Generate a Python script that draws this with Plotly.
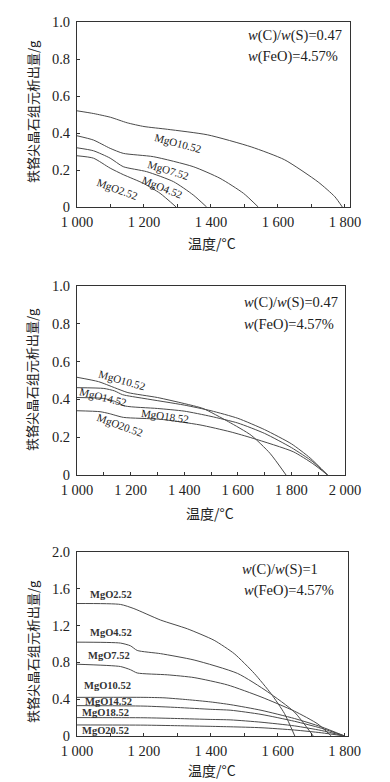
import plotly.graph_objects as go

# ---------------- data ----------------
# Panel 1: w(C)/w(S)=0.47, w(FeO)=4.57%
p1_names = ["MgO10.52", "MgO7.52", "MgO4.52", "MgO2.52"]
p1_T = [
    [1000, 1050, 1100, 1150, 1200, 1270, 1390, 1520, 1620, 1720, 1770, 1792],
    [1000, 1049, 1099, 1138, 1228, 1347, 1427, 1497, 1541],
    [1000, 1049, 1099, 1138, 1208, 1288, 1347, 1387],
    [1000, 1049, 1099, 1138, 1198, 1248, 1296],
]
p1_V = [
    [0.52, 0.505, 0.485, 0.455, 0.435, 0.42, 0.39, 0.325, 0.255, 0.135, 0.055, 0],
    [0.385, 0.362, 0.317, 0.29, 0.272, 0.218, 0.155, 0.074, 0],
    [0.32, 0.304, 0.264, 0.218, 0.191, 0.137, 0.065, 0],
    [0.277, 0.264, 0.21, 0.175, 0.128, 0.074, 0],
]

# Panel 2: w(C)/w(S)=0.47, w(FeO)=4.57%
p2_names = ["MgO10.52", "MgO14.52", "MgO18.52", "MgO20.52"]
p2_T = [
    [1000, 1080, 1140, 1190, 1300, 1400, 1470, 1565, 1650, 1720, 1780],
    [1000, 1100, 1140, 1170, 1250, 1400, 1500, 1600, 1700, 1800, 1870, 1935],
    [1000, 1100, 1140, 1180, 1300, 1400, 1500, 1600, 1700, 1800, 1880, 1935],
    [1000, 1086, 1120, 1173, 1310, 1459, 1571, 1657, 1807, 1880, 1935],
]
p2_V = [
    [0.517, 0.494, 0.462, 0.436, 0.41, 0.378, 0.352, 0.282, 0.21, 0.115, 0],
    [0.462, 0.458, 0.445, 0.425, 0.405, 0.37, 0.34, 0.30, 0.24, 0.165, 0.09, 0],
    [0.41, 0.405, 0.39, 0.365, 0.352, 0.338, 0.31, 0.275, 0.22, 0.145, 0.07, 0],
    [0.34, 0.335, 0.325, 0.305, 0.295, 0.265, 0.229, 0.194, 0.123, 0.06, 0],
]

# Panel 3: w(C)/w(S)=1, w(FeO)=4.57%
p3_names = ["MgO2.52", "MgO4.52", "MgO7.52", "MgO10.52", "MgO14.52", "MgO18.52", "MgO20.52"]
p3_T = [
    [1000, 1130, 1170, 1250, 1330, 1410, 1470, 1530, 1580, 1620, 1651],
    [1000, 1130, 1160, 1180, 1250, 1350, 1480, 1570, 1650, 1706],
    [1000, 1130, 1160, 1180, 1270, 1350, 1450, 1550, 1650, 1720, 1760],
    [1000, 1200, 1260, 1330, 1400, 1460, 1550, 1650, 1730, 1800],
    [1000, 1200, 1300, 1400, 1460, 1550, 1650, 1730, 1800],
    [1000, 1200, 1300, 1400, 1460, 1550, 1650, 1730, 1800],
    [1000, 1200, 1300, 1400, 1460, 1550, 1650, 1730, 1800],
]
p3_V = [
    [1.44, 1.43, 1.385, 1.26, 1.165, 1.04, 0.895, 0.68, 0.46, 0.245, 0],
    [1.02, 1.01, 0.98, 0.93, 0.895, 0.826, 0.68, 0.48, 0.26, 0],
    [0.78, 0.755, 0.72, 0.685, 0.665, 0.635, 0.555, 0.425, 0.27, 0.13, 0],
    [0.42, 0.42, 0.415, 0.395, 0.37, 0.34, 0.28, 0.19, 0.10, 0],
    [0.33, 0.325, 0.31, 0.29, 0.28, 0.235, 0.16, 0.085, 0],
    [0.20, 0.198, 0.19, 0.18, 0.175, 0.15, 0.11, 0.06, 0],
    [0.12, 0.118, 0.112, 0.105, 0.10, 0.09, 0.065, 0.035, 0],
]

# curve label positions (temperature, value, angle)
p1_lab = [(1301, 0.346, 15), (1272, 0.20, 17), (1253, 0.108, 22), (1120, 0.097, 20)]
p2_lab = [(1167, 0.503, 16), (1098, 0.411, 14), (1328, 0.312, 8), (1160, 0.265, 20)]
p3_lab = [(1101, 1.54), (1101, 1.13), (1095, 0.88), (1090, 0.55), (1095, 0.37), (1084, 0.26), (1084, 0.06)]

x_ticks_1 = [1000, 1200, 1400, 1600, 1800]
x_ticks_2 = [1000, 1200, 1400, 1600, 1800, 2000]
y_ticks_1 = [0, 0.2, 0.4, 0.6, 0.8, 1.0]
y_ticks_3 = [0, 0.4, 0.8, 1.2, 1.6, 2.0]

notes_1 = ["<i>w</i>(C)/<i>w</i>(S)=0.47", "<i>w</i>(FeO)=4.57%"]
notes_3 = ["<i>w</i>(C)/<i>w</i>(S)=1", "<i>w</i>(FeO)=4.57%"]
x_title = "温度/°C"
y_title = "铁铬尖晶石组元析出量/g"

# ---------------- figure ----------------
W, H = 390, 782
LINE = "#4a4a4a"
SERIF = "Liberation Serif, Times New Roman, serif"
CJK = "Noto Sans CJK SC"

fig = go.Figure()

def add_curves(Ts, Vs, names, xa, ya):
    for t, v, n in zip(Ts, Vs, names):
        fig.add_trace(go.Scatter(x=t, y=v, mode="lines", name=n, xaxis=xa, yaxis=ya,
                                 line=dict(color=LINE, width=1, shape="spline", smoothing=0.6),
                                 showlegend=False, hoverinfo="skip"))

add_curves(p1_T, p1_V, p1_names, "x", "y")
add_curves(p2_T, p2_V, p2_names, "x2", "y2")
add_curves(p3_T, p3_V, p3_names, "x3", "y3")

def fmt_t(v):
    s = str(int(v))
    return s[0] + " " + s[1:]

def fmt_y(v):
    return "0" if v == 0 else f"{v:.1f}"

def px(a, b):
    return [a / W, b / W]

def py(top, bottom):
    return [1 - bottom / H, 1 - top / H]

def xaxis(domain, rng, labels, anchor):
    vals = list(range(1000, int(rng[1]) + 1, 100))
    texts = [fmt_t(v) if v in labels else "" for v in vals]
    return dict(domain=domain, range=rng, anchor=anchor, tickvals=vals, ticktext=texts,
                ticks="inside", ticklen=3, tickcolor="#333", showline=True, mirror=True,
                linecolor="#333", linewidth=1, showgrid=False, zeroline=False,
                automargin=False, ticklabelstandoff=2,
                tickfont=dict(family=SERIF, size=14.5, color="#222"))

def yaxis(domain, rng, labels, anchor):
    return dict(domain=domain, range=rng, anchor=anchor, tickvals=labels,
                ticktext=[fmt_y(v) for v in labels], ticks="inside", ticklen=3,
                tickcolor="#333", showline=True, mirror=True, linecolor="#333",
                linewidth=1, showgrid=False, zeroline=False, automargin=False,
                ticklabelstandoff=3,
                tickfont=dict(family=SERIF, size=14.5, color="#222"))

fig.update_layout(
    width=W, height=H, margin=dict(l=0, r=0, t=0, b=0, autoexpand=False),
    paper_bgcolor="white", plot_bgcolor="white",
    xaxis=xaxis(px(77, 350), [1000, 1815], x_ticks_1, "y"),
    yaxis=yaxis(py(22, 207), [0, 1.0], y_ticks_1, "x"),
    xaxis2=xaxis(px(77, 345), [1000, 2000], x_ticks_2, "y2"),
    yaxis2=yaxis(py(286, 475), [0, 1.0], y_ticks_1, "x2"),
    xaxis3=xaxis(px(77, 348), [1000, 1810], x_ticks_1, "y3"),
    yaxis3=yaxis(py(552, 736), [0, 2.0], y_ticks_3, "x3"),
)

ann = []
def paper_text(x, y, text, size=14, family=CJK, angle=0, xanchor="center"):
    ann.append(dict(x=x / W, y=1 - y / H, xref="paper", yref="paper", text=text,
                    showarrow=False, textangle=angle, xanchor=xanchor, yanchor="middle",
                    font=dict(family=family, size=size, color="#222")))

# axis titles
paper_text(212, 243, x_title)
paper_text(210, 513, x_title)
paper_text(212, 770, x_title)
paper_text(32, 112, y_title, size=13, angle=-90)
paper_text(32, 380, y_title, size=13, angle=-90)
paper_text(32, 652, y_title, size=13, angle=-90)

# notes
paper_text(246, 35, notes_1[0], size=14.5, family=SERIF, xanchor="left")
paper_text(246, 57, notes_1[1], size=14.5, family=SERIF, xanchor="left")
paper_text(242, 302, notes_1[0], size=14.5, family=SERIF, xanchor="left")
paper_text(242, 324, notes_1[1], size=14.5, family=SERIF, xanchor="left")
paper_text(240, 569, notes_3[0], size=14.5, family=SERIF, xanchor="left")
paper_text(242, 590, notes_3[1], size=14.5, family=SERIF, xanchor="left")

# curve labels
for (t, v, a), n in zip(p1_lab, p1_names):
    ann.append(dict(x=t, y=v, xref="x", yref="y", text=n, showarrow=False, textangle=a,
                    font=dict(family=SERIF, size=11, color="#222")))
for (t, v, a), n in zip(p2_lab, p2_names):
    ann.append(dict(x=t, y=v, xref="x2", yref="y2", text=n, showarrow=False, textangle=a,
                    font=dict(family=SERIF, size=11, color="#222")))
for (t, v), n in zip(p3_lab, p3_names):
    ann.append(dict(x=t, y=v, xref="x3", yref="y3", text="<b>" + n + "</b>", showarrow=False,
                    font=dict(family=SERIF, size=10.5, color="#333")))

fig.update_layout(annotations=ann)
fig.write_html("out.html", config={"displayModeBar": False, "staticPlot": True},
               post_script="document.body.style.margin='0';document.body.style.overflow='hidden';")
